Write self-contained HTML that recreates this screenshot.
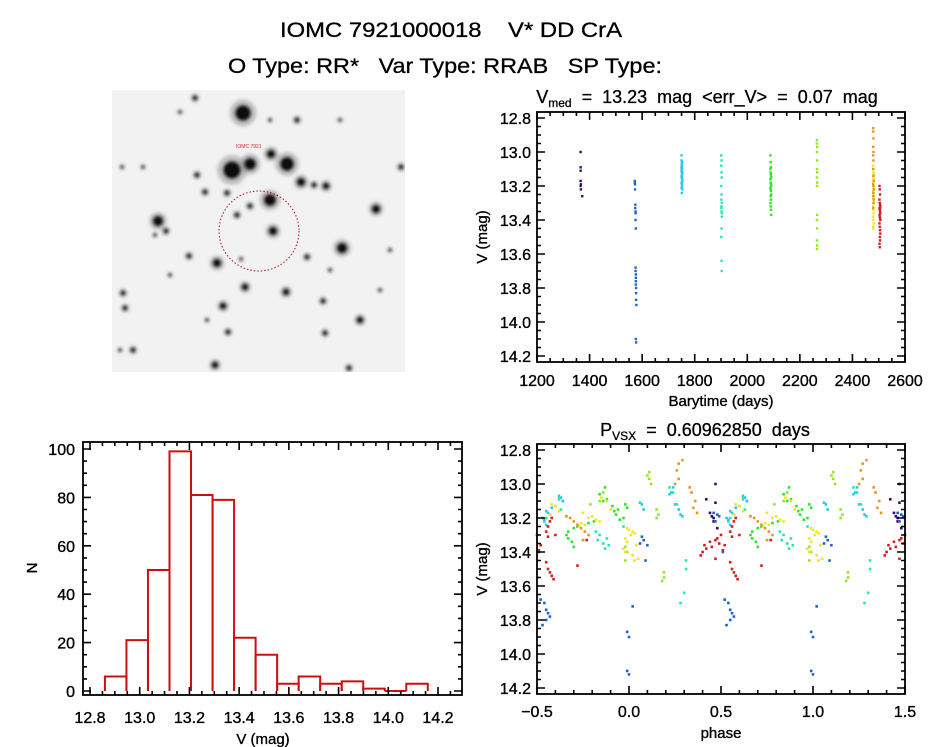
<!DOCTYPE html>
<html><head><meta charset="utf-8"><style>
html,body{margin:0;padding:0;background:#fff;}
svg{display:block;font-family:"Liberation Sans",sans-serif;}
text{white-space:pre;}
</style></head><body>
<svg id="fig" width="944" height="747" viewBox="0 0 944 747" xmlns="http://www.w3.org/2000/svg" xml:space="preserve">
<defs>
<filter id="blur" x="-50%" y="-50%" width="200%" height="200%"><feGaussianBlur stdDeviation="1.6"/></filter>
<clipPath id="imgclip"><rect x="112" y="90" width="293" height="282"/></clipPath>
</defs>
<rect x="0" y="0" width="944" height="747" fill="#fff"/>
<text x="451" y="37" text-anchor="middle" font-size="21" stroke="#000" stroke-width="0.3" textLength="342" lengthAdjust="spacingAndGlyphs">IOMC 7921000018    V* DD CrA</text>
<text x="445" y="73" text-anchor="middle" font-size="21" stroke="#000" stroke-width="0.3" textLength="434" lengthAdjust="spacingAndGlyphs">O Type: RR*   Var Type: RRAB   SP Type:</text>
<g id="img" clip-path="url(#imgclip)"></g>
<g id="lc"></g>
<g id="hist"></g>
<g id="ph"></g>
</svg>
<script>
// ---- Light curve data (groups) ----
const groupColors = ["#3c0a6e","#1e64c8","#28c8e6","#28e6b4","#28e628","#96e628","#f0e628","#e6961e","#d21e1e"];
const g0t = [1366,1366,1366,1366,1367,1366,1367,1372];
const g0m = [13.00,13.09,13.11,13.17,13.19,13.20,13.22,13.26];
const g0p = [0.47,0.42,0.47,0.44,0.45,0.46,0.46,0.48];
const g1t = [1572,1572,1573,1574,1574,1575,1575,1576,1575,1575,1576,1576,1576,1577,1577,1577,1578,1576,1576,1577,1575,1573];
const g1m = [13.17,13.18,13.22,13.31,13.33,13.36,13.40,13.45,13.68,13.70,13.74,13.76,13.78,13.80,13.83,13.87,13.90,13.72,14.10,14.12,13.35,13.19];
const g1p = [0.46,0.48,0.47,0.07,0.08,0.10,0.51,0.09,0.52,0.54,0.55,0.56,0.57,0.55,0.53,0.99,0.00,0.02,0.99,1.00,0.06,0.49];
const g2t = [1750,1750,1751,1751,1752,1750,1751,1752,1750,1751,1752,1753,1750,1751,1752,1753,1751,1752,1750,1753,1751,1752,1750,1751];
const g2m = [13.02,13.05,13.07,13.08,13.10,13.11,13.12,13.13,13.14,13.15,13.16,13.17,13.18,13.19,13.20,13.22,13.24,13.06,13.09,13.12,13.15,13.18,13.21,13.10];
const g2p = [0.24,0.23,0.62,0.63,0.64,0.06,0.07,0.60,0.58,0.27,0.55,0.56,0.57,0.29,0.53,0.54,0.55,0.22,0.62,0.25,0.08,0.28,0.54,0.64];
const g3t = [1901,1902,1901,1902,1903,1901,1902,1903,1901,1902,1903,1902,1901,1902,1903,1901,1902,1903];
const g3m = [13.02,13.05,13.08,13.12,13.15,13.20,13.25,13.30,13.33,13.35,13.38,13.45,13.50,13.64,13.70,13.28,13.32,13.36];
const g3p = [0.22,0.24,0.62,0.26,0.63,0.55,0.97,0.84,0.83,0.86,0.87,0.31,0.31,0.30,0.28,0.82,0.88,0.89];
const g4t = [2088,2089,2090,2088,2089,2090,2091,2088,2089,2090,2091,2088,2089,2090,2091,2089,2090,2088,2089,2090,2091,2090];
const g4m = [13.02,13.06,13.09,13.10,13.12,13.13,13.15,13.16,13.18,13.19,13.20,13.21,13.22,13.23,13.25,13.26,13.28,13.30,13.32,13.34,13.37,13.14];
const g4p = [0.87,0.84,0.88,0.86,0.98,0.91,0.94,0.92,0.93,0.80,0.97,0.95,0.81,0.78,0.72,0.70,0.67,0.66,0.67,0.69,0.70,0.99];
const g5t = [2265,2265,2266,2265,2266,2265,2266,2265,2266,2265,2266,2265,2266,2265,2266,2265];
const g5m = [12.93,12.95,12.97,13.00,13.05,13.10,13.12,13.15,13.18,13.20,13.37,13.40,13.45,13.52,13.55,13.57];
const g5p = [0.11,0.10,0.11,0.12,0.86,0.84,0.79,0.15,0.16,0.15,0.98,0.99,0.98,0.19,0.19,0.18];
const g6t = [2478,2479,2480,2481,2479,2480,2481,2478,2479,2480,2481,2482,2479,2480,2481,2478,2479,2480,2481,2482,2479,2480,2481,2478,2480,2481,2479,2480];
const g6m = [13.08,13.10,13.12,13.13,13.15,13.16,13.17,13.18,13.19,13.20,13.21,13.22,13.23,13.24,13.25,13.26,13.27,13.28,13.29,13.30,13.32,13.34,13.36,13.38,13.40,13.42,13.44,13.45];
const g6p = [0.85,0.88,0.58,0.60,0.90,0.62,0.75,0.57,0.80,0.78,0.82,0.84,0.74,0.76,0.73,0.99,1.00,0.02,0.03,0.01,0.98,0.99,1.04,0.97,0.98,1.02,1.05,1.03];
const g7t = [2479,2479,2480,2479,2480,2479,2480,2479,2480,2481,2479,2480,2481,2479,2480,2481,2480,2479];
const g7m = [12.86,12.88,12.92,12.97,13.00,13.02,13.05,13.10,13.14,13.17,13.19,13.20,13.22,13.24,13.26,13.28,13.30,13.33];
const g7p = [0.29,0.27,0.26,0.27,0.25,0.33,0.34,0.36,0.35,0.37,0.66,0.68,0.70,0.72,0.74,0.76,0.78,0.75];
const g8t = [2503,2504,2505,2503,2504,2505,2506,2503,2504,2505,2506,2503,2504,2505,2506,2503,2504,2505,2506,2504,2505,2503,2504,2505,2506,2504];
const g8m = [13.20,13.22,13.25,13.28,13.30,13.31,13.32,13.33,13.34,13.35,13.36,13.37,13.38,13.39,13.40,13.42,13.44,13.46,13.48,13.50,13.52,13.54,13.56,13.33,13.36,13.30];
const g8p = [0.58,0.57,0.56,0.55,0.50,0.56,0.48,0.47,0.44,0.49,0.52,0.45,0.42,0.51,0.40,0.39,0.47,0.55,0.72,0.56,0.57,0.58,0.59,0.77,0.41,0.60];
const groupT = [g0t,g1t,g2t,g3t,g4t,g5t,g6t,g7t,g8t];
const groupM = [g0m,g1m,g2m,g3m,g4m,g5m,g6m,g7m,g8m];
const groupP = [g0p,g1p,g2p,g3p,g4p,g5p,g6p,g7p,g8p];
// ---- Histogram data ----
const histStart = 12.86;
const histWidth = 0.0866;
const histCounts = [6,21,50,99,81,79,22,15,3,6,3,4,1,0,3];
// ---- Tick labels ----
const lcXTicks = [1200,1400,1600,1800,2000,2200,2400,2600];
const magTicks = [12.8,13.0,13.2,13.4,13.6,13.8,14.0,14.2];
const histXTicks = [12.8,13.0,13.2,13.4,13.6,13.8,14.0,14.2];
const histYTicks = [0,20,40,60,80,100];
const phXTicks = [-0.5,0.0,0.5,1.0,1.5];

const NS="http://www.w3.org/2000/svg";
function mk(parent,tag,attrs){const e=document.createElementNS(NS,tag);for(const k in attrs)e.setAttribute(k,attrs[k]);parent.appendChild(e);return e;}
function lin(d0,d1,r0,r1){return v=>r0+(v-d0)*(r1-r0)/(d1-d0);}

function frame(g,L,T,R,B,sx,sy,xMaj,xMin,yMaj,yMin,xr,yr){
  const r=mk(g,'rect',{x:L,y:T,width:R-L,height:B-T,fill:'none',stroke:'#000','stroke-width':1.8});
  
  
  const lines=[];
  for(let v=xr[0];v<=xr[1]+1e-9;v+=xMin){const x=sx(v);const maj=Math.abs(v/xMaj-Math.round(v/xMaj))<1e-6;const l=maj?8:4;
    if(x<L-0.5||x>R+0.5)continue;
    lines.push(`M${x},${B}v${-l}M${x},${T}v${l}`);}
  for(let v=yr[0];v<=yr[1]+1e-9;v+=yMin){const y=sy(v);const maj=Math.abs(v/yMaj-Math.round(v/yMaj))<1e-6;const l=maj?8:4;
    if(y<T-0.5||y>B+0.5)continue;
    lines.push(`M${L},${y}h${l}M${R},${y}h${-l}`);}
  const p=mk(g,'path',{d:lines.join(''),stroke:'#000','stroke-width':1.6,fill:'none'});
  
  
}
function txt(g,x,y,s,opts){const t=mk(g,'text',Object.assign({x:x,y:y,'font-size':16,stroke:'#000','stroke-width':0.35},opts||{}));t.textContent=s;return t;}

// ---- Sky image ----
(function(){
 const g=document.getElementById('img');
 const bg=mk(g,'rect',{x:112,y:90,width:293,height:282,fill:'#f2f2f2'});
 
 
 const stars=[[243,113,9],[232,170,10],[250,164,7],[271,154,5],[287,164,8],[301,182,5],[326,186,4],[314,185,3],[270,200,7],[250,206,3],[237,215,3],[273,231,5],[158,221,6],[166,231,3],[376,209,5],[342,248,6],[217,263,5],[197,175,3],[205,192,3],[227,193,3],[189,256,3],[307,257,3],[245,287,4],[286,292,4],[223,306,4],[323,301,3],[360,320,4],[228,332,3],[325,333,3],[133,350,3],[215,365,4],[349,368,3],[123,293,3],[125,308,3],[297,120,3],[195,98,3],[401,167,3],[143,167,2],[122,167,2],[180,112,2],[241,259,2],[207,320,2],[170,275,2],[380,290,2],[390,250,2],[155,235,2],[330,270,2],[270,120,2],[340,120,2],[120,350,2]];
 const sg=mk(g,'g',{filter:'url(#blur)'});
 
 
 for(const s of stars){
   const h=mk(sg,'circle',{cx:s[0],cy:s[1],r:s[2]*1.5,fill:'#888',opacity:0.45});
   
   
   const c=mk(sg,'circle',{cx:s[0],cy:s[1],r:s[2]*0.9,fill:'#111'});
   
   
 }
 const ap=mk(g,'circle',{cx:259,cy:231,r:40,fill:'none',stroke:'#b01010','stroke-width':1,'stroke-dasharray':'1.5 2'});
 
 
 const lb=mk(g,'text',{x:236,y:148,'font-size':5,fill:'#c03030'});lb.textContent='IOMC 7921';
 
 
})();

// ---- Light curve ----
(function(){
 const g=document.getElementById('lc');
 const L=537,R=905,T=112,B=362;
 const sx=lin(1200,2600,L,R), sy=lin(12.8,14.2,118,356);
 for(let i=0;i<groupT.length;i++){
   for(let j=0;j<groupT[i].length;j++){
     const d=mk(g,'rect',{x:sx(groupT[i][j])-1.2,y:sy(groupM[i][j])-1.2,width:2.4,height:2.4,fill:groupColors[i]});
     
     
   }
 }
 frame(g,L,T,R,B,sx,sy,200,50,0.2,0.05,[1200,2600],[12.8,14.2]);
 for(const v of lcXTicks){const t=txt(g,sx(v),386,String(v),{'text-anchor':'middle'});}
 for(const v of magTicks){const t=txt(g,531,sy(v)+6,v.toFixed(1),{'text-anchor':'end'});}
 const xt=txt(g,721,406,'Barytime (days)',{'text-anchor':'middle','font-size':15});
 
 const yt=txt(g,0,0,'V (mag)',{'text-anchor':'middle','font-size':15,transform:'translate(487,237) rotate(-90)'});
 
 const ti=mk(g,'text',{x:707,y:103,'text-anchor':'middle','font-size':18,stroke:'#000','stroke-width':0.3});
 ti.innerHTML='V<tspan font-size="12" dy="4">med</tspan><tspan dy="-4">  =  13.23  mag  &lt;err_V&gt;  =  0.07  mag</tspan>';
 
})();

// ---- Histogram ----
(function(){
 const g=document.getElementById('hist');
 const L=83,R=462,T=442,B=695;
 const sx=lin(12.8,14.2,90,438), sy=lin(0,100,691,449);
 for(let i=0;i<histCounts.length;i++){
   const x0=sx(histStart+i*histWidth), x1=sx(histStart+(i+1)*histWidth);
   const b=mk(g,'path',{d:`M${x0},${sy(0)}V${sy(histCounts[i])}H${x1}V${sy(0)}`,fill:'none',stroke:'#cc1010','stroke-width':2});
   
   
 }
 frame(g,L,T,R,B,sx,sy,0.2,0.05,20,5,[12.8,14.3],[0,100]);
 for(const v of histXTicks){const t=txt(g,sx(v),723,v.toFixed(1),{'text-anchor':'middle'});}
 for(const v of histYTicks){const t=txt(g,75,sy(v)+6,String(v),{'text-anchor':'end'});}
 const xt=txt(g,263,744,'V (mag)',{'text-anchor':'middle','font-size':15});
 
 const yt=txt(g,0,0,'N',{'text-anchor':'middle','font-size':15,transform:'translate(37,568) rotate(-90)'});
 
})();

// ---- Phase plot ----
(function(){
 const g=document.getElementById('ph');
 const L=537,R=905,T=444,B=694;
 const sx=lin(-0.5,1.5,L,R), sy=lin(12.8,14.2,450,688);
 for(let i=0;i<groupP.length;i++){
   for(let j=0;j<groupP[i].length;j++){
     for(const off of [-1,0,1]){
       const p=groupP[i][j]+off; if(p<-0.5||p>1.5)continue;
       const d=mk(g,'rect',{x:sx(p)-1.3,y:sy(groupM[i][j])-1.3,width:2.6,height:2.6,fill:groupColors[i]});
       
       
     }
   }
 }
 frame(g,L,T,R,B,sx,sy,0.5,0.1,0.2,0.05,[-0.5,1.5],[12.8,14.2]);
 for(const v of phXTicks){const t=txt(g,sx(v),717,v.toFixed(1).replace('-','\u2212'),{'text-anchor':'middle'});}
 for(const v of magTicks){const t=txt(g,531,sy(v)+6,v.toFixed(1),{'text-anchor':'end'});}
 const xt=txt(g,721,738,'phase',{'text-anchor':'middle','font-size':15});
 
 const yt=txt(g,0,0,'V (mag)',{'text-anchor':'middle','font-size':15,transform:'translate(487,569) rotate(-90)'});
 
 const ti=mk(g,'text',{x:705,y:436,'text-anchor':'middle','font-size':18,stroke:'#000','stroke-width':0.3});
 ti.innerHTML='P<tspan font-size="12" dy="4">VSX</tspan><tspan dy="-4">  =  0.60962850  days</tspan>';
 
})();
</script>
</body></html>
